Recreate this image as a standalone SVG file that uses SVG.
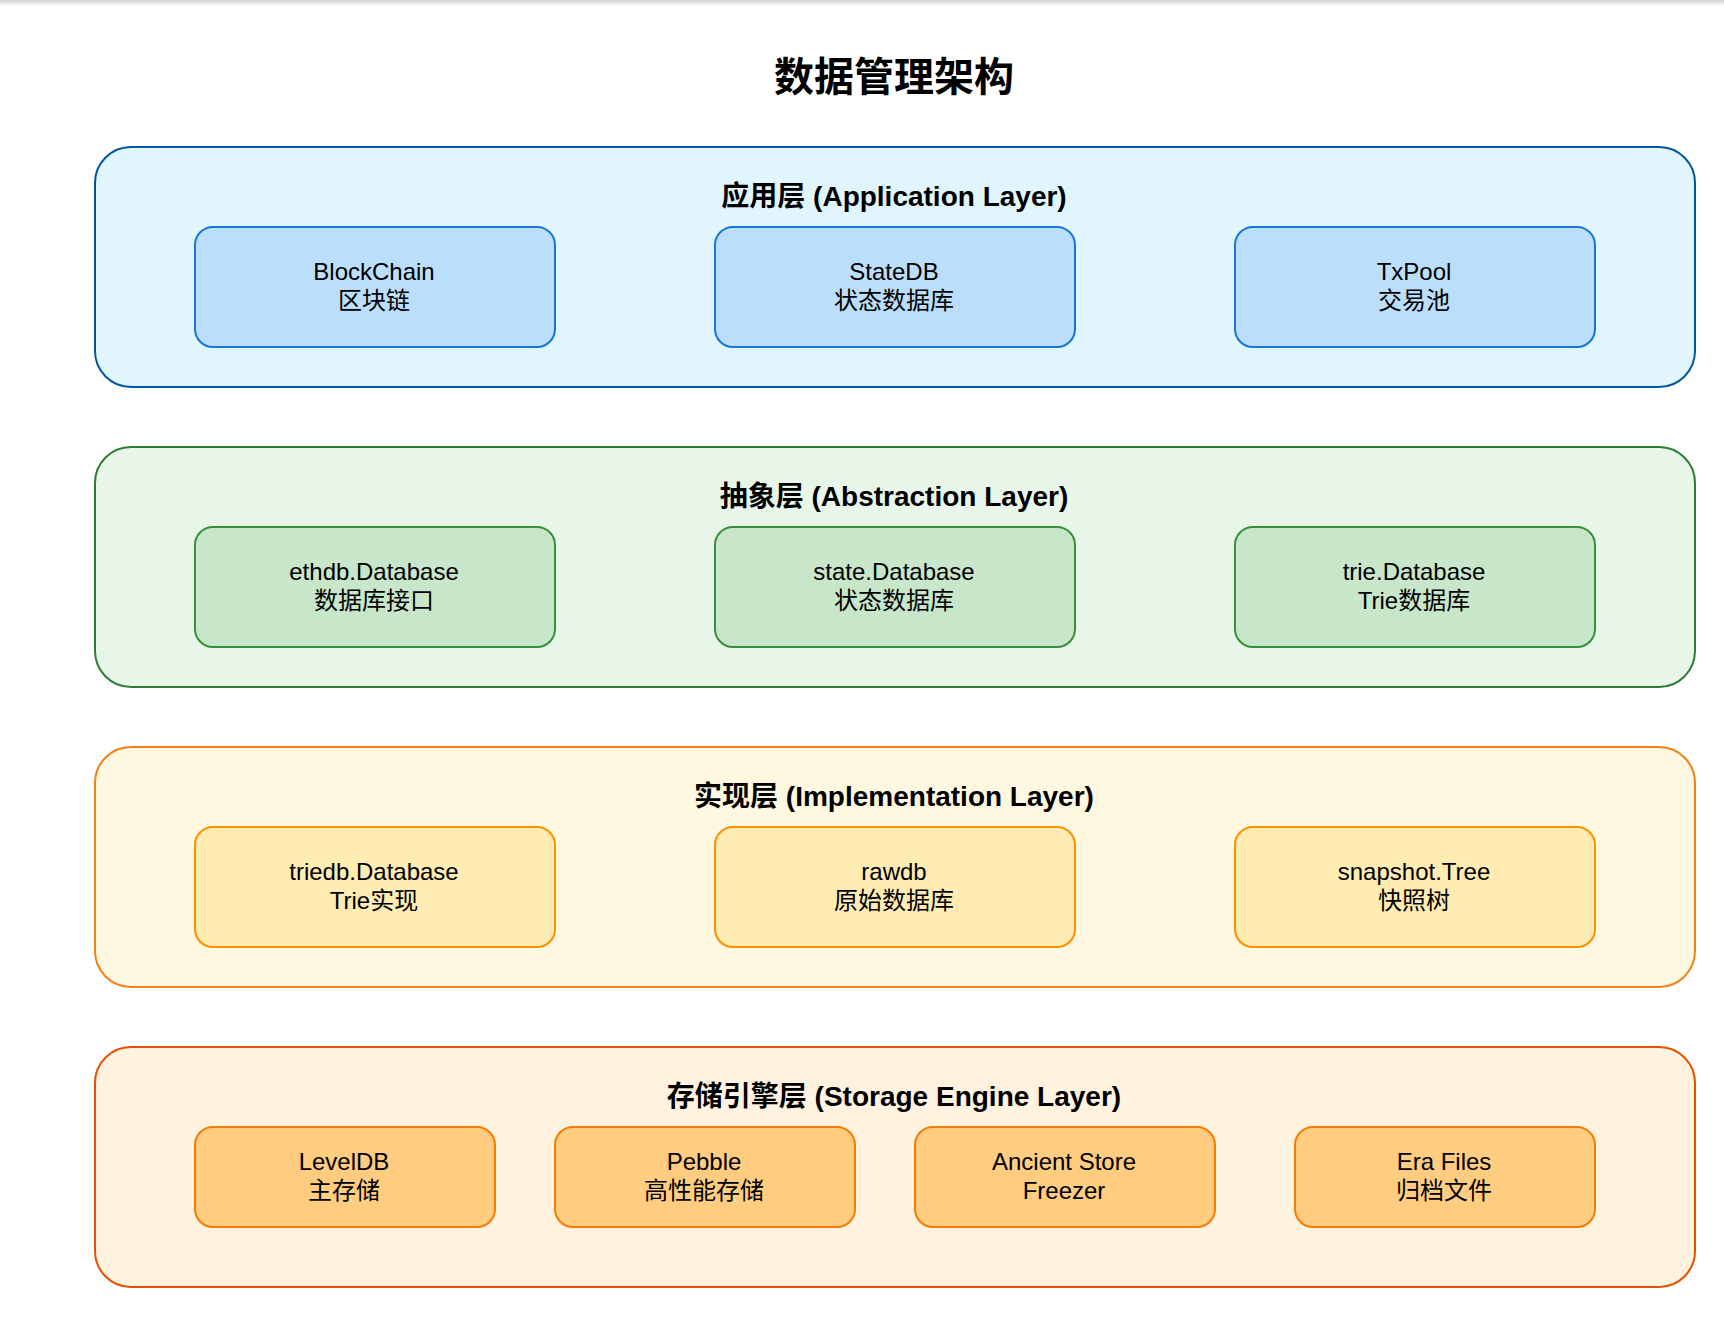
<svg xmlns="http://www.w3.org/2000/svg" width="1724" height="1320" viewBox="0 0 1724 1320">
<defs>
<linearGradient id="topband" x1="0" y1="0" x2="0" y2="1">
<stop offset="0" stop-color="#d4d4d4"/>
<stop offset="0.5" stop-color="#e6e6e6"/>
<stop offset="1" stop-color="#ffffff"/>
</linearGradient>
<style>
text{font-family:"Liberation Sans","Noto Sans CJK SC",Arial,sans-serif;fill:#000;text-anchor:middle}
.title{font-size:40px;font-weight:bold}
.lt{font-size:28px;font-weight:bold}
.nt{font-size:24px}
.layer{stroke-width:2}
.node{stroke-width:2}
.l1{fill:#e1f5fe;stroke:#01579b}
.n1{fill:#bbdefb;stroke:#1976d2}
.l2{fill:#e8f5e9;stroke:#2e7d32}
.n2{fill:#c8e6c9;stroke:#388e3c}
.l3{fill:#fff8e1;stroke:#f57f17}
.n3{fill:#ffecb3;stroke:#ff8f00}
.l4{fill:#fff3e0;stroke:#e65100}
.n4{fill:#ffcc80;stroke:#f57c00}
</style>
</defs>
<rect x="0" y="0" width="1724" height="1320" fill="#ffffff"/>
<rect x="0" y="0" width="1724" height="6" fill="url(#topband)"/>
<text class="title" x="894" y="91">数据管理架构</text>

<g id="layer-application">
<rect class="layer l1" x="95" y="147" width="1600" height="240" rx="36" ry="36"/>
<text class="lt" x="894" y="206">应用层 (Application Layer)</text>
</g>
<g id="node-blockchain">
<rect class="node n1" x="195" y="227" width="360" height="120" rx="18" ry="18"/>
<text class="nt" x="374" y="280">BlockChain</text>
<text class="nt" x="374" y="309">区块链</text>
</g>
<g id="node-statedb">
<rect class="node n1" x="715" y="227" width="360" height="120" rx="18" ry="18"/>
<text class="nt" x="894" y="280">StateDB</text>
<text class="nt" x="894" y="309">状态数据库</text>
</g>
<g id="node-txpool">
<rect class="node n1" x="1235" y="227" width="360" height="120" rx="18" ry="18"/>
<text class="nt" x="1414" y="280">TxPool</text>
<text class="nt" x="1414" y="309">交易池</text>
</g>

<g id="layer-abstraction">
<rect class="layer l2" x="95" y="447" width="1600" height="240" rx="36" ry="36"/>
<text class="lt" x="894" y="506">抽象层 (Abstraction Layer)</text>
</g>
<g id="node-ethdb">
<rect class="node n2" x="195" y="527" width="360" height="120" rx="18" ry="18"/>
<text class="nt" x="374" y="580">ethdb.Database</text>
<text class="nt" x="374" y="609">数据库接口</text>
</g>
<g id="node-statedatabase">
<rect class="node n2" x="715" y="527" width="360" height="120" rx="18" ry="18"/>
<text class="nt" x="894" y="580">state.Database</text>
<text class="nt" x="894" y="609">状态数据库</text>
</g>
<g id="node-triedatabase">
<rect class="node n2" x="1235" y="527" width="360" height="120" rx="18" ry="18"/>
<text class="nt" x="1414" y="580">trie.Database</text>
<text class="nt" x="1414" y="609">Trie数据库</text>
</g>

<g id="layer-implementation">
<rect class="layer l3" x="95" y="747" width="1600" height="240" rx="36" ry="36"/>
<text class="lt" x="894" y="806">实现层 (Implementation Layer)</text>
</g>
<g id="node-triedb">
<rect class="node n3" x="195" y="827" width="360" height="120" rx="18" ry="18"/>
<text class="nt" x="374" y="880">triedb.Database</text>
<text class="nt" x="374" y="909">Trie实现</text>
</g>
<g id="node-rawdb">
<rect class="node n3" x="715" y="827" width="360" height="120" rx="18" ry="18"/>
<text class="nt" x="894" y="880">rawdb</text>
<text class="nt" x="894" y="909">原始数据库</text>
</g>
<g id="node-snapshot">
<rect class="node n3" x="1235" y="827" width="360" height="120" rx="18" ry="18"/>
<text class="nt" x="1414" y="880">snapshot.Tree</text>
<text class="nt" x="1414" y="909">快照树</text>
</g>

<g id="layer-storage">
<rect class="layer l4" x="95" y="1047" width="1600" height="240" rx="36" ry="36"/>
<text class="lt" x="894" y="1106">存储引擎层 (Storage Engine Layer)</text>
</g>
<g id="node-leveldb">
<rect class="node n4" x="195" y="1127" width="300" height="100" rx="18" ry="18"/>
<text class="nt" x="344" y="1170">LevelDB</text>
<text class="nt" x="344" y="1199">主存储</text>
</g>
<g id="node-pebble">
<rect class="node n4" x="555" y="1127" width="300" height="100" rx="18" ry="18"/>
<text class="nt" x="704" y="1170">Pebble</text>
<text class="nt" x="704" y="1199">高性能存储</text>
</g>
<g id="node-ancient">
<rect class="node n4" x="915" y="1127" width="300" height="100" rx="18" ry="18"/>
<text class="nt" x="1064" y="1170">Ancient Store</text>
<text class="nt" x="1064" y="1199">Freezer</text>
</g>
<g id="node-era">
<rect class="node n4" x="1295" y="1127" width="300" height="100" rx="18" ry="18"/>
<text class="nt" x="1444" y="1170">Era Files</text>
<text class="nt" x="1444" y="1199">归档文件</text>
</g>

<g id="connectors"></g>
</svg>
